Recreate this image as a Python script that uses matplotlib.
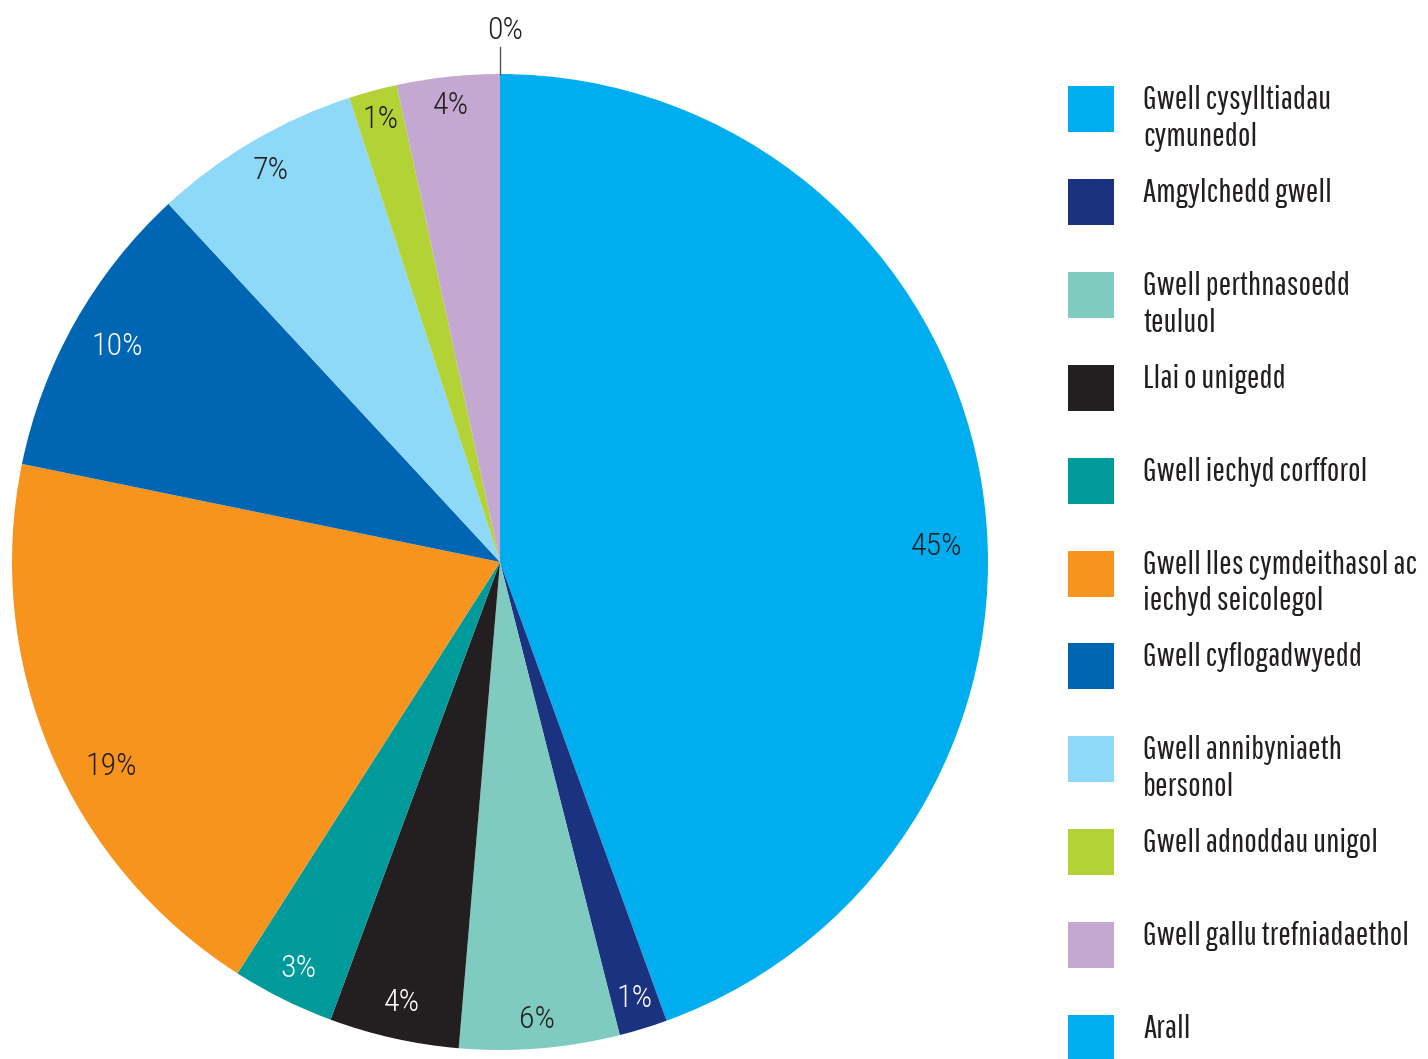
import numpy as np
import matplotlib
matplotlib.use("Agg")
import matplotlib.pyplot as plt
from matplotlib.patches import Rectangle

plt.rcParams['font.family'] = ['Pathway Gothic One', 'DejaVu Sans']

categories = [
    "Gwell cysylltiadau\ncymunedol",
    "Amgylchedd gwell",
    "Gwell perthnasoedd\nteuluol",
    "Llai o unigedd",
    "Gwell iechyd corfforol",
    "Gwell lles cymdeithasol ac\niechyd seicolegol",
    "Gwell cyflogadwyedd",
    "Gwell annibyniaeth\nbersonol",
    "Gwell adnoddau unigol",
    "Gwell gallu trefniadaethol",
    "Arall",
]
values = [44.5, 1.6, 5.3, 4.3, 3.4, 19.2, 9.9, 6.9, 1.6, 3.4, 0.0]
pct_labels = ["45%", "1%", "6%", "4%", "3%", "19%", "10%", "7%", "1%", "4%", "0%"]

colors = ["#00AEEF", "#1B3281", "#7FCBC0", "#231F20", "#009A9A", "#F7941D",
          "#0066B3", "#8ED8F8", "#B2D235", "#C4A8D2", "#00AEEF"]
label_colors = ["#231F20", "white", "#231F20", "white", "white", "#231F20",
                "white", "#231F20", "#231F20", "#231F20", "#231F20"]
# label placement within each wedge (fraction along the arc, radius)
label_frac = [0.55, 0.5, 0.5, 0.5, 0.5, 0.43, 0.5, 0.5, 0.5, 0.5, 0.5]
label_rad = [0.895, 0.935, 0.94, 0.925, 0.93, 0.9, 0.9, 0.93, 0.94, 0.94, 0.94]

W, H = 1428, 1059
fig = plt.figure(figsize=(W / 100, H / 100), dpi=100)

cx, cy, R = 500, 562, 488
ax = fig.add_axes([(cx - R) / W, (H - cy - R) / H, 2 * R / W, 2 * R / H])
ax.axis('off')

wedges, _ = ax.pie(values, colors=colors, startangle=90, counterclock=False,
                   radius=1, wedgeprops=dict(linewidth=0))
ax.set_xlim(-1, 1)
ax.set_ylim(-1, 1)

fs = 24
dark = "#231F20"
pfont = dict(family=['Roboto Condensed', 'DejaVu Sans'], fontweight='light', fontsize=23)
for w, lab, lc, v, fr, r in zip(wedges, pct_labels, label_colors, values, label_frac, label_rad):
    ang = np.deg2rad(w.theta2 + fr * (w.theta1 - w.theta2))
    if v == 0:
        ax.plot([np.cos(ang) * 1.0, np.cos(ang) * 1.055],
                [np.sin(ang) * 1.0, np.sin(ang) * 1.055],
                color="#555555", lw=1, clip_on=False)
        ax.text(np.cos(ang) * 1.07 + 0.01, np.sin(ang) * 1.06, lab,
                ha='center', va='bottom', color=dark, **pfont)
    else:
        ax.text(np.cos(ang) * r, np.sin(ang) * r, lab, ha='center', va='center',
                color=lc, **pfont)

# Legend drawn manually
sq_x0, sq_size = 1068, 46
text_x = 1143
top0, step = 86, 92.9
line_h = 37
for i, (cat, col) in enumerate(zip(categories, colors)):
    top = top0 + i * step
    fig.patches.append(Rectangle((sq_x0 / W, 1 - (top + sq_size) / H), sq_size / W, sq_size / H,
                                 transform=fig.transFigure, facecolor=col, edgecolor='none'))
    for j, line in enumerate(cat.split("\n")):
        fig.text(text_x / W, 1 - (top + 23 + j * line_h) / H, line, ha='left', va='baseline',
                 fontsize=fs, color=dark)

fig.savefig("out.png", dpi=100)
